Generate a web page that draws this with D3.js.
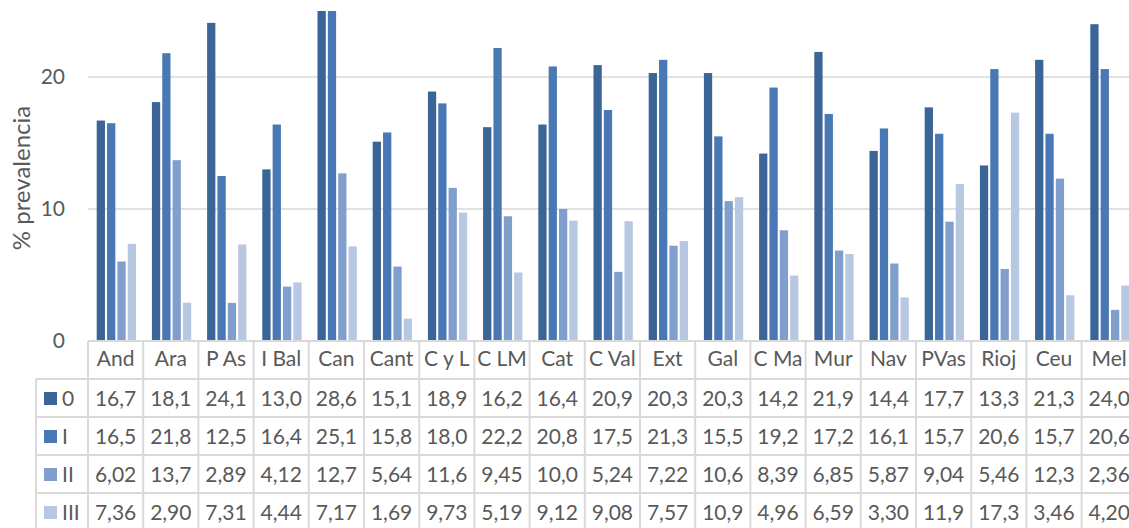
<!DOCTYPE html>
<html>
<head>
<meta charset="utf-8">
<script src="https://cdn.jsdelivr.net/npm/d3@7"></script>
<style>
  body { margin: 0; background: #fff; }
  text { font-family: Lato, "Open Sans", sans-serif; fill: #595959; }
</style>
</head>
<body>
<div id="chart"></div>
<script>
// data
var regions = ["And", "Ara", "P As", "I Bal", "Can", "Cant", "C y L", "C LM", "Cat", "C Val",
               "Ext", "Gal", "C Ma", "Mur", "Nav", "PVas", "Rioj", "Ceu", "Mel"];
var seriesNames = ["0", "I", "II", "III"];
var grade0 = [16.7, 18.1, 24.1, 13.0, 28.6, 15.1, 18.9, 16.2, 16.4, 20.9, 20.3, 20.3, 14.2, 21.9, 14.4, 17.7, 13.3, 21.3, 24.0];
var grade1 = [16.5, 21.8, 12.5, 16.4, 25.1, 15.8, 18.0, 22.2, 20.8, 17.5, 21.3, 15.5, 19.2, 17.2, 16.1, 15.7, 20.6, 15.7, 20.6];
var grade2 = [6.02, 13.7, 2.89, 4.12, 12.7, 5.64, 11.6, 9.45, 10.0, 5.24, 7.22, 10.6, 8.39, 6.85, 5.87, 9.04, 5.46, 12.3, 2.36];
var grade3 = [7.36, 2.90, 7.31, 4.44, 7.17, 1.69, 9.73, 5.19, 9.12, 9.08, 7.57, 10.9, 4.96, 6.59, 3.30, 11.9, 17.3, 3.46, 4.20];
var yTicks = [0, 10, 20];
var colors = ["#3b6597", "#4a78b4", "#819fcc", "#b8c7e2"];

var allSeries = [grade0, grade1, grade2, grade3];

var width = 1129, height = 528;
var plot = {left: 88, top: 11, bottom: 341, catW: 55.2};
var rowTop = 379, rowH = 38;
var fontSize = "21px";

var svg = d3.select("#chart").append("svg")
    .attr("width", width)
    .attr("height", height);

var x0 = d3.scaleBand()
    .domain(regions)
    .range([plot.left, plot.left + regions.length * plot.catW])
    .padding(0);

var x1 = d3.scaleBand()
    .domain(seriesNames)
    .range([8.7, 48])
    .paddingInner(0.2)
    .paddingOuter(0);

var y = d3.scaleLinear()
    .domain([0, 25])
    .range([plot.bottom, plot.top]);

// gridlines
svg.append("g")
  .selectAll("line")
  .data(yTicks.filter(function (d) { return d > 0; }))
  .enter().append("line")
    .attr("x1", plot.left).attr("x2", width)
    .attr("y1", function (d) { return y(d); })
    .attr("y2", function (d) { return y(d); })
    .attr("stroke", "#d9d9d9")
    .attr("stroke-width", 1.5);

// y tick labels
svg.append("g")
  .selectAll("text")
  .data(yTicks)
  .enter().append("text")
    .attr("x", 65)
    .attr("y", function (d) { return y(d) + 7; })
    .attr("text-anchor", "end")
    .style("font-size", fontSize)
    .text(function (d) { return d; });

// y axis title
svg.append("text")
  .attr("transform", "translate(30,178) rotate(-90)")
  .attr("text-anchor", "middle")
  .style("font-size", "24px")
  .text("% prevalencia");

// bars, clipped at the top of the plot
svg.append("clipPath").attr("id", "plotclip")
  .append("rect")
    .attr("x", plot.left).attr("y", plot.top)
    .attr("width", width - plot.left).attr("height", plot.bottom - plot.top);

var groups = svg.append("g")
    .attr("clip-path", "url(#plotclip)")
  .selectAll("g")
  .data(regions)
  .enter().append("g")
    .attr("transform", function (d) { return "translate(" + x0(d) + ",0)"; });

groups.selectAll("rect")
  .data(function (d, i) {
    return seriesNames.map(function (s, j) { return {s: s, j: j, v: allSeries[j][i]}; });
  })
  .enter().append("rect")
    .attr("x", function (d) { return x1(d.s); })
    .attr("width", x1.bandwidth())
    .attr("y", function (d) { return y(d.v); })
    .attr("height", function (d) { return y(0) - y(d.v); })
    .attr("fill", function (d) { return colors[d.j]; });

// data table
var table = svg.append("g");
var borderColor = "#d9d9d9";
var tableBottom = rowTop + seriesNames.length * rowH;

// axis line / top of header row
table.append("line")
  .attr("x1", plot.left).attr("x2", width)
  .attr("y1", plot.bottom).attr("y2", plot.bottom)
  .attr("stroke", borderColor).attr("stroke-width", 2);

// vertical separators between categories
table.selectAll("line.v")
  .data(regions.concat(["_end"]))
  .enter().append("line")
    .attr("class", "v")
    .attr("x1", function (d, i) { return plot.left + i * plot.catW; })
    .attr("x2", function (d, i) { return plot.left + i * plot.catW; })
    .attr("y1", plot.bottom)
    .attr("y2", tableBottom)
    .attr("stroke", borderColor).attr("stroke-width", 2);

// horizontal row lines
table.selectAll("line.h")
  .data(seriesNames)
  .enter().append("line")
    .attr("class", "h")
    .attr("x1", 36).attr("x2", width)
    .attr("y1", function (d, i) { return rowTop + i * rowH; })
    .attr("y2", function (d, i) { return rowTop + i * rowH; })
    .attr("stroke", borderColor).attr("stroke-width", 2);

// left border of legend column
table.append("line")
  .attr("x1", 36).attr("x2", 36)
  .attr("y1", rowTop).attr("y2", tableBottom)
  .attr("stroke", borderColor).attr("stroke-width", 2);

// category header
table.selectAll("text.cat")
  .data(regions)
  .enter().append("text")
    .attr("class", "cat")
    .attr("x", function (d) { return x0(d) + x0.bandwidth() / 2; })
    .attr("y", plot.bottom + 25)
    .attr("text-anchor", "middle")
    .style("font-size", fontSize)
    .text(function (d) { return d; });

// legend keys + names
var legendRows = table.selectAll("g.row")
  .data(seriesNames)
  .enter().append("g")
    .attr("class", "row")
    .attr("transform", function (d, i) { return "translate(0," + (rowTop + i * rowH) + ")"; });

legendRows.append("rect")
  .attr("x", 44).attr("y", 13)
  .attr("width", 13).attr("height", 13)
  .attr("fill", function (d, i) { return colors[i]; });

legendRows.append("text")
  .attr("x", 62).attr("y", 27)
  .style("font-size", fontSize)
  .text(function (d) { return d; });

var fmt = d3.format(".3r");
legendRows.each(function (s, j) {
  d3.select(this).selectAll("text.val")
    .data(allSeries[j])
    .enter().append("text")
      .attr("class", "val")
      .attr("x", function (d, i) { return x0(regions[i]) + x0.bandwidth() / 2; })
      .attr("y", 27)
      .attr("text-anchor", "middle")
      .style("font-size", fontSize)
      .text(function (d) { return fmt(d).replace(".", ","); });
});
</script>
</body>
</html>
